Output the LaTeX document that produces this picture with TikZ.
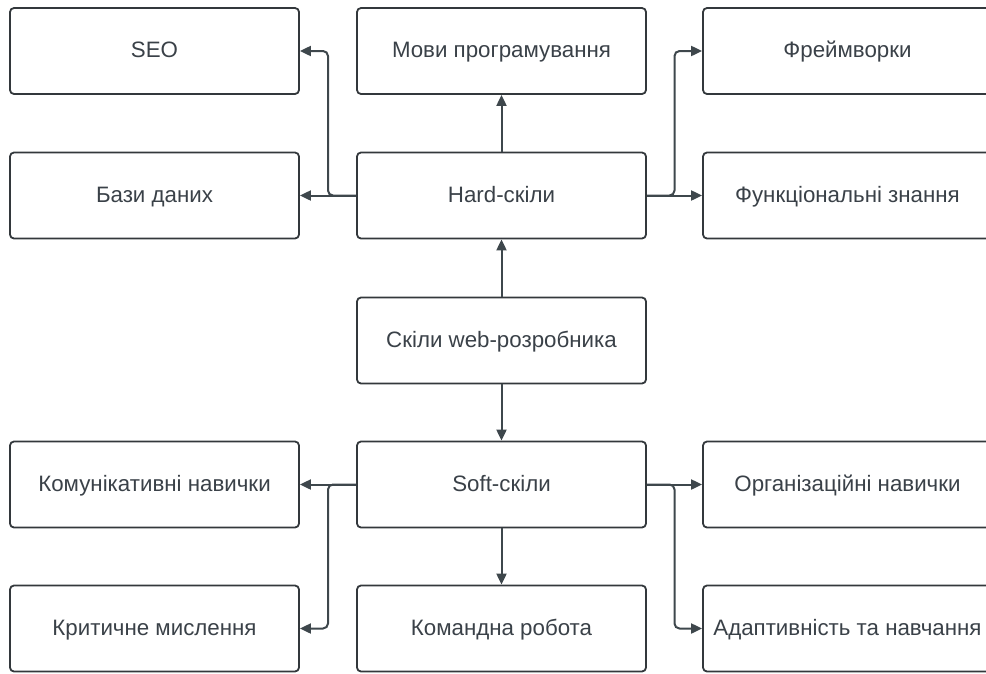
\documentclass[tikz,border=0pt]{standalone}
\usepackage{fontspec}
\setmainfont{Liberation Sans}
\usetikzlibrary{arrows.meta,calc}
\definecolor{boxline}{HTML}{33383C}
\definecolor{wire}{HTML}{3E474C}
\definecolor{ink}{HTML}{3A4148}
\begin{document}
\begin{tikzpicture}[x=1pt,y=-1pt,
  skill/.style={draw=boxline,line width=1.8pt,rounded corners=4pt,fill=white,
    minimum width=289pt,minimum height=86pt,inner sep=0pt,
    text height=13pt,text depth=0pt,
    text=ink,font=\fontsize{22.3}{26}\selectfont},
  wire/.style={draw=wire,line width=2pt,rounded corners=5pt,
    -{Triangle[length=11pt,width=10pt]}}]
\useasboundingbox (0,0) rectangle (986,673);
\clip (0,0) rectangle (986,673);
% skill boxes, three columns by five rows
\node[skill] (seo)   at (154.5,51)    {SEO};
\node[skill] (lang)  at (501.5,51)    {Мови програмування};
\node[skill] (fw)    at (847.5,51)    {Фреймворки};
\node[skill] (db)    at (154.5,195.5) {Бази даних};
\node[skill] (hard)  at (501.5,195.5) {Hard-скіли};
\node[skill] (func)  at (847.5,195.5) {Функціональні знання};
\node[skill] (root)  at (501.5,340.5) {Скіли web-розробника};
\node[skill] (comm)  at (154.5,484.5) {Комунікативні навички};
\node[skill] (soft)  at (501.5,484.5) {Soft-скіли};
\node[skill] (org)   at (847.5,484.5) {Організаційні навички};
\node[skill] (crit)  at (154.5,628.5) {Критичне мислення};
\node[skill] (team)  at (501.5,628.5) {Командна робота};
\node[skill] (adapt) at (847.5,628.5) {Адаптивність та навчання};
% root to both branches
\draw[wire] (root.north) -- (hard.south);
\draw[wire] (root.south) -- (soft.north);
% hard skills
\draw[wire] (hard.north) -- (lang.south);
\draw[wire] (hard.west) -- (db.east);
\draw[wire] (hard.west) -- ($(hard.west)!0.5!(db.east)$) |- (seo.east);
\draw[wire] (hard.east) -- (func.west);
\draw[wire] (hard.east) -- ($(hard.east)!0.5!(func.west)$) |- (fw.west);
% soft skills
\draw[wire] (soft.south) -- (team.north);
\draw[wire] (soft.west) -- (comm.east);
\draw[wire] (soft.west) -- ($(soft.west)!0.5!(comm.east)$) |- (crit.east);
\draw[wire] (soft.east) -- (org.west);
\draw[wire] (soft.east) -- ($(soft.east)!0.5!(org.west)$) |- (adapt.west);
\end{tikzpicture}
\end{document}
